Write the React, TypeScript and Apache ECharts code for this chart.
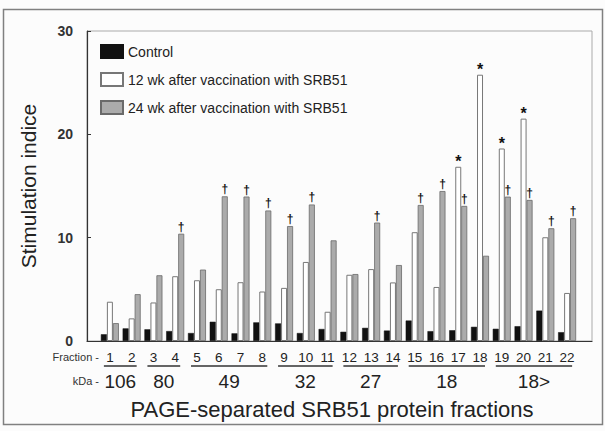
import React, { useEffect, useRef } from "react";
import * as echarts from "echarts";

const fractions = ["1","2","3","4","5","6","7","8","9","10","11","12","13","14","15","16","17","18","19","20","21","22"];
const control = [0.65,1.22,1.13,0.96,0.77,1.86,0.74,1.8,1.7,0.77,1.16,0.89,1.27,1.01,1.98,0.95,1.04,1.37,1.18,1.43,2.94,0.85];
const wk12 = [3.8,2.19,3.73,6.27,5.88,5.01,5.69,4.79,5.14,7.65,2.83,6.41,6.96,5.67,10.53,5.23,16.86,25.77,18.63,21.52,10.04,4.65];
const wk24 = [1.73,4.53,6.36,10.38,6.91,14.0,13.98,12.63,11.12,13.21,9.74,6.48,11.46,7.35,13.16,14.51,13.07,8.25,13.97,13.65,10.91,11.88];
const starFractions = ["17","18","19","20"];
const daggerFractions = ["4","6","7","8","9","10","13","15","16","17","19","20","21","22"];
const kDaLabels = ["106","80","49","32","27","18","18>"];
const kDaFirst = ["1","3","5","9","12","15","19"];
const kDaLast = ["2","4","8","11","14","18","22"];
const yTicks = [0, 10, 20, 30];

const FONT = "'Liberation Sans', Arial, Helvetica, sans-serif";

export default function App() {
  const ref = useRef<HTMLDivElement>(null);
  useEffect(() => {
    if (!ref.current) return;
    const chart = echarts.init(ref.current, null, { renderer: "svg" });
    const option: any = {
      animation: false,
      backgroundColor: "#fcfcfc",
      textStyle: { fontFamily: FONT },
      legend: {
        orient: "vertical",
        left: 95,
        top: 39,
        itemWidth: 22,
        itemHeight: 13,
        itemGap: 13,
        icon: "rect",
        textStyle: { fontSize: 14, color: "#222", fontFamily: FONT },
        data: ["Control", "12 wk after vaccination with SRB51", "24 wk after vaccination with SRB51"],
      },
      grid: [
        { left: 87, right: 13, top: 31, bottom: 90, show: true, borderColor: "#aaa", borderWidth: 1, backgroundColor: "transparent" },
        { left: 99, right: 27, top: 31, bottom: 90 },
      ],
      xAxis: [
        {
          gridIndex: 0, type: "value", min: 0, max: 1,
          axisLine: { show: true, onZero: false, lineStyle: { color: "#333", width: 1.2 } },
          axisTick: { show: false }, axisLabel: { show: false }, splitLine: { show: false },
        },
        {
          gridIndex: 1, type: "category", data: fractions,
          axisLine: { show: false }, axisTick: { show: false },
          axisLabel: { margin: 9, fontSize: 13.5, color: "#222", fontFamily: FONT, interval: 0 },
        },
      ],
      yAxis: [
        {
          gridIndex: 0, type: "value", min: yTicks[0], max: yTicks[yTicks.length - 1], interval: 10,
          axisLine: { show: true, lineStyle: { color: "#333", width: 1.2 } },
          axisTick: { show: true, inside: true, length: 4, lineStyle: { color: "#333" } },
          axisLabel: { margin: 14, fontSize: 14, fontWeight: "bold", color: "#333", fontFamily: FONT },
          splitLine: { show: false },
        },
        { gridIndex: 1, type: "value", min: 0, max: 30, show: false, splitLine: { show: false } },
      ],
      series: [
        {
          name: "Control", type: "bar", xAxisIndex: 1, yAxisIndex: 1, data: control,
          barWidth: 6, barGap: "0%",
          itemStyle: { color: "#111", borderColor: "#111", borderWidth: 0.5 },
        },
        {
          name: "12 wk after vaccination with SRB51", type: "bar", xAxisIndex: 1, yAxisIndex: 1, data: wk12,
          barWidth: 6, barGap: "0%",
          itemStyle: { color: "#ffffff", borderColor: "#777", borderWidth: 1 },
          label: {
            show: true, position: "top", distance: -3, fontSize: 16, fontWeight: "bold", color: "#111",
            formatter: (p: any) => (starFractions.includes(p.name) ? "*" : ""),
          },
        },
        {
          name: "24 wk after vaccination with SRB51", type: "bar", xAxisIndex: 1, yAxisIndex: 1, data: wk24,
          barWidth: 6, barGap: "0%",
          itemStyle: { color: "#ababab", borderColor: "#6a6a6a", borderWidth: 0.8 },
          label: {
            show: true, position: "top", distance: 1, fontSize: 12, fontWeight: "bold", color: "#111",
            formatter: (p: any) => (daggerFractions.includes(p.name) ? "\u2020" : ""),
          },
        },
      ],
    };
    chart.setOption(option);

    const px = (name: string) => chart.convertToPixel({ xAxisIndex: 1 }, name) as unknown as number;
    const graphics: any[] = [
      { type: "rect", shape: { x: 3.5, y: 9.5, width: 599, height: 415 }, style: { fill: "none", stroke: "#808080", lineWidth: 1.5 }, silent: true },
      { type: "text", x: 28, y: 186, rotation: Math.PI / 2, style: { text: "Stimulation indice", fontSize: 21, fontFamily: FONT, fill: "#222", textAlign: "center", textVerticalAlign: "middle" } },
      { type: "text", x: 332, y: 409, style: { text: "PAGE-separated SRB51 protein fractions", fontSize: 22, fontFamily: FONT, fill: "#222", textAlign: "center", textVerticalAlign: "middle" } },
      { type: "text", x: 99, y: 357, style: { text: "Fraction -", fontSize: 11, fontFamily: FONT, fill: "#333", textAlign: "right", textVerticalAlign: "middle" } },
      { type: "text", x: 99, y: 381, style: { text: "kDa -", fontSize: 11, fontFamily: FONT, fill: "#333", textAlign: "right", textVerticalAlign: "middle" } },
    ];
    kDaLabels.forEach((lab, i) => {
      const x1 = px(kDaFirst[i]) - 6;
      const x2 = px(kDaLast[i]) + 5;
      graphics.push({ type: "line", shape: { x1, y1: 366, x2, y2: 366 }, style: { stroke: "#333", lineWidth: 1.3 } });
      graphics.push({ type: "text", x: (x1 + x2) / 2, y: 381, style: { text: lab, fontSize: 19, fontFamily: FONT, fill: "#222", textAlign: "center", textVerticalAlign: "middle" } });
    });
    chart.setOption({ graphic: graphics });
    return () => chart.dispose();
  }, []);
  return <div ref={ref} style={{ position: "fixed", left: 0, top: 0, width: 605, height: 431 }} />;
}
